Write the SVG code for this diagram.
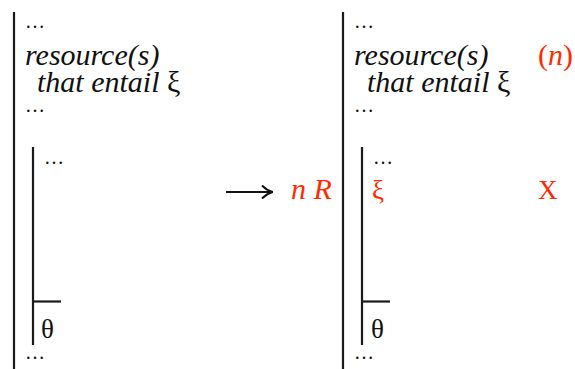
<svg xmlns="http://www.w3.org/2000/svg" width="575" height="369" viewBox="0 0 575 369">
<style>
.bar{stroke:#1a1a1a;stroke-width:2.2;fill:none}
.t{font-family:"Liberation Serif","DejaVu Serif",serif;font-size:30px;fill:#111}
.i{font-style:italic}
.u{font-family:"Liberation Serif","DejaVu Serif",serif;font-size:27px;fill:#111}
.red{fill:#ff2a00}
.dots{font-family:"Liberation Serif",serif;font-size:20px;fill:#111;letter-spacing:1px}
</style>
<defs>
<marker id="ah" viewBox="0 0 12 14" refX="11" refY="7" markerWidth="12" markerHeight="14" markerUnits="userSpaceOnUse" orient="auto">
<path d="M1,0.5 Q6,5.5 11.5,7 Q6,8.5 1,13.5" fill="none" stroke="#111" stroke-width="2"/>
</marker>
</defs>
<g id="left">
<line class="bar" x1="14" y1="12" x2="14" y2="369"/>
<text class="dots" x="25" y="28">…</text>
<text class="t"><tspan class="i" x="25" y="65">resource(s)</tspan><tspan x="37" y="92"><tspan class="i">that entail</tspan> ξ</tspan></text>
<text class="dots" x="25" y="112">…</text>
<g id="left-inner">
<line class="bar" x1="33" y1="147" x2="33" y2="345"/>
<line class="bar" x1="33" y1="301.5" x2="61" y2="301.5"/>
<text class="dots" x="44" y="164">…</text>
<text class="u" x="41" y="338">θ</text>
</g>
<text class="dots" x="25" y="359">…</text>
</g>
<g id="connectors">
<line x1="226" y1="192" x2="272" y2="192" stroke="#111" stroke-width="2.2" marker-end="url(#ah)"/>
</g>
<g id="label">
<text class="t i red" x="291" y="199">n R</text>
</g>
<g id="right">
<line class="bar" x1="343" y1="12" x2="343" y2="369"/>
<text class="dots" x="354" y="28">…</text>
<text class="t"><tspan class="i" x="354" y="65">resource(s)</tspan><tspan x="367" y="92"><tspan class="i">that entail</tspan> ξ</tspan></text>
<text class="t red" x="538" y="65">(<tspan class="i">n</tspan>)</text>
<text class="dots" x="354" y="112">…</text>
<g id="right-inner">
<line class="bar" x1="362" y1="147" x2="362" y2="345"/>
<line class="bar" x1="362" y1="301.5" x2="390" y2="301.5"/>
<text class="dots" x="373" y="164">…</text>
<text class="u red" x="372" y="199">ξ</text>
<text class="u red" x="538" y="199">X</text>
<text class="u" x="371" y="338">θ</text>
</g>
<text class="dots" x="354" y="359">…</text>
</g>
</svg>
